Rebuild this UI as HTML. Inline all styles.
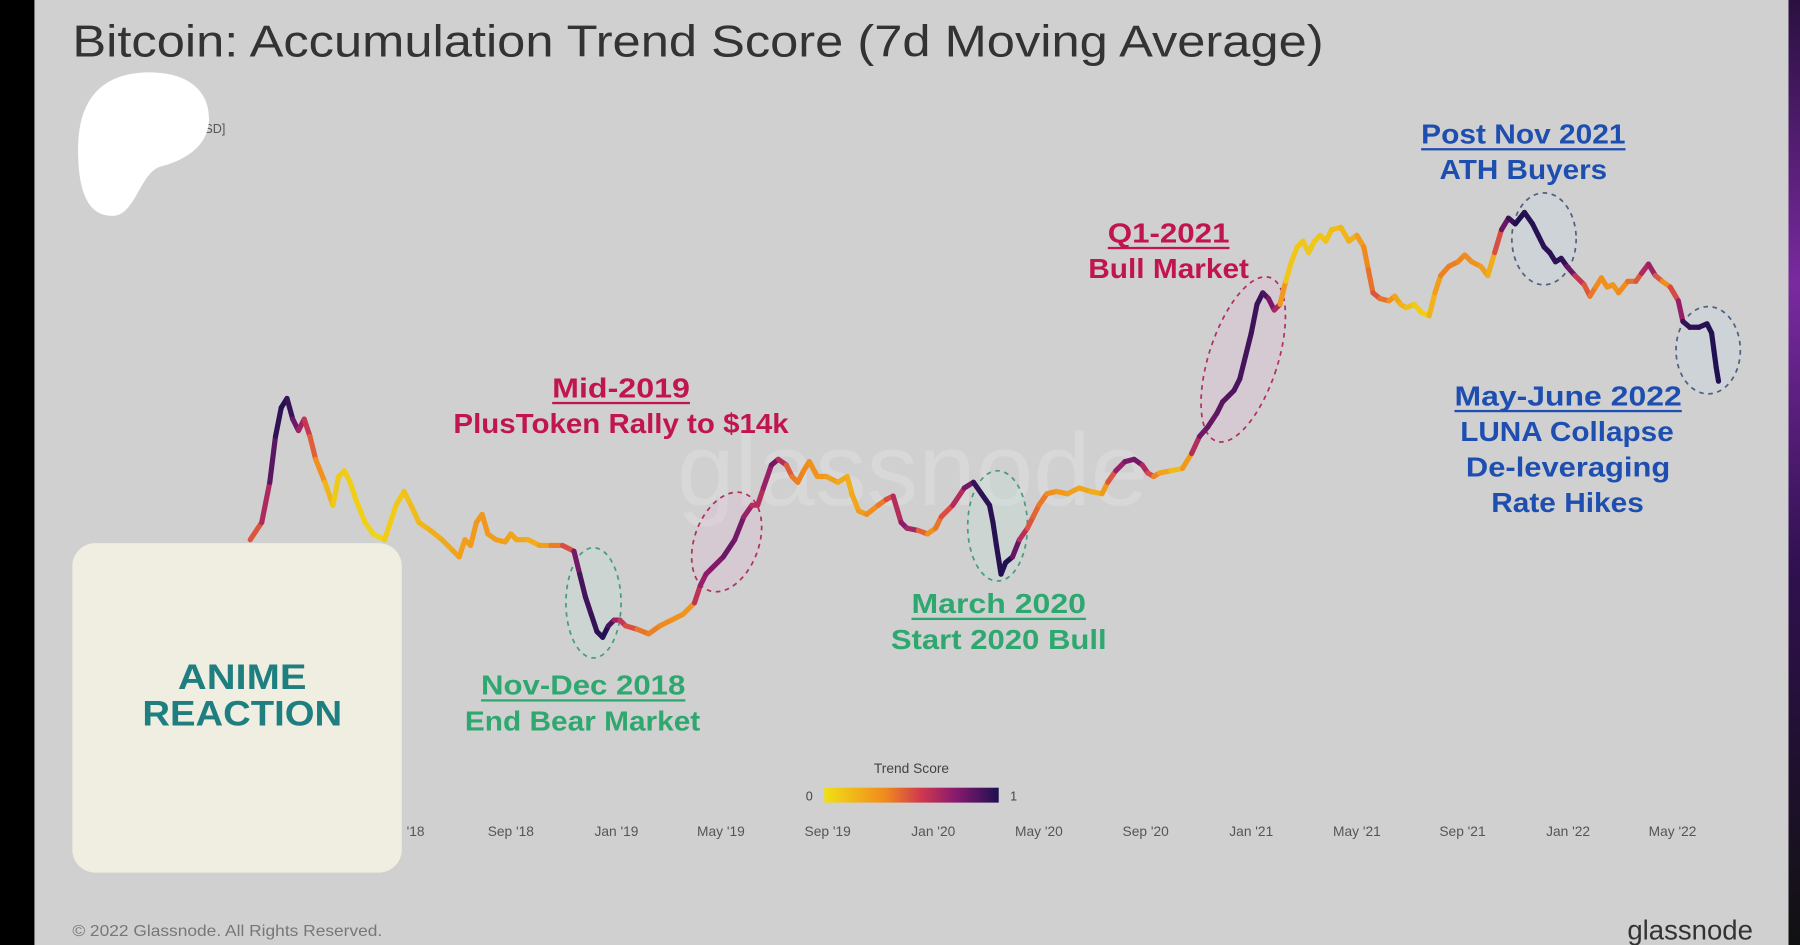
<!DOCTYPE html>
<html><head><meta charset="utf-8"><style>
html,body{margin:0;padding:0;background:#000;}
svg{display:block;}
text{font-family:"Liberation Sans",sans-serif;}
</style></head><body>
<svg id="s" width="1800" height="945" viewBox="0 0 1568 823" preserveAspectRatio="none" xmlns="http://www.w3.org/2000/svg">
<defs>
<linearGradient id="cm" x1="0" x2="1" y1="0" y2="0">
<stop offset="0" stop-color="#f0e015"/><stop offset="0.35" stop-color="#f08a1e"/><stop offset="0.55" stop-color="#d03a4e"/><stop offset="0.75" stop-color="#8a1a6e"/><stop offset="1" stop-color="#1e1050"/>
</linearGradient>
<linearGradient id="rs" x1="0" x2="0" y1="0" y2="1"><stop offset="0" stop-color="#2a1040"/><stop offset="0.3" stop-color="#7a2aa0"/><stop offset="0.6" stop-color="#301050"/><stop offset="1" stop-color="#111"/></linearGradient>
</defs>
<rect x="0" y="0" width="1568" height="823" fill="#000"/>
<rect x="30" y="0" width="1528" height="823" fill="#d0d0d0"/>
<rect x="1558" y="0" width="10" height="823" fill="url(#rs)"/>
<text x="63" y="49" font-size="39" fill="#333" textLength="1090" lengthAdjust="spacingAndGlyphs">Bitcoin: Accumulation Trend Score (7d Moving Average)</text>
<text x="795" y="440" font-size="90" fill="#d8d8d8" text-anchor="middle">glassnode</text>
<text x="178" y="116" font-size="11" fill="#555">SD]</text>
<path d="M98,188 C78,188 68,170 68,130 C68,85 90,63 130,63 C165,63 183,80 182,105 C181,128 160,140 140,145 C122,150 118,188 98,188 Z" fill="#fff"/>

<g fill-opacity="0.25" stroke-width="1.5" stroke-dasharray="4,4">
<ellipse cx="517" cy="525" rx="24" ry="48" fill="#bfe3d6" stroke="#4a9a80"/>
<ellipse cx="633" cy="472" rx="28" ry="45" fill="#e8b8d8" stroke="#b03060" transform="rotate(20 633 472)"/>
<ellipse cx="869" cy="458" rx="26" ry="48" fill="#bfe3d6" stroke="#4a9a80"/>
<ellipse cx="1083" cy="313" rx="30" ry="75" fill="#e8b8d8" stroke="#b03060" transform="rotate(18 1083 313)"/>
<ellipse cx="1345" cy="208" rx="28" ry="40" fill="#c8dcea" stroke="#506080"/>
<ellipse cx="1488" cy="305" rx="28" ry="38" fill="#c8dcea" stroke="#506080"/>
</g>
<g id="line" stroke-width="4.5" stroke-linecap="round" fill="none"></g>

<g font-weight="bold" font-size="24" lengthAdjust="spacingAndGlyphs">
<g fill="#c0154f"><text x="481" y="346" textLength="120" lengthAdjust="spacingAndGlyphs">Mid-2019</text><text x="395" y="377" textLength="292" lengthAdjust="spacingAndGlyphs">PlusToken Rally to $14k</text>
<text x="965" y="211" textLength="106" lengthAdjust="spacingAndGlyphs">Q1-2021</text><text x="948" y="242" textLength="140" lengthAdjust="spacingAndGlyphs">Bull Market</text></g>
<rect x="481" y="350" width="120" height="2" fill="#c0154f"/>
<rect x="965" y="215" width="106" height="2" fill="#c0154f"/>
<g fill="#2fa870"><text x="419" y="605" textLength="178" lengthAdjust="spacingAndGlyphs">Nov-Dec 2018</text><text x="405" y="636" textLength="205" lengthAdjust="spacingAndGlyphs">End Bear Market</text>
<text x="794" y="534" textLength="152" lengthAdjust="spacingAndGlyphs">March 2020</text><text x="776" y="565" textLength="188" lengthAdjust="spacingAndGlyphs">Start 2020 Bull</text></g>
<rect x="419" y="609" width="178" height="2" fill="#2fa870"/>
<rect x="794" y="538" width="152" height="2" fill="#2fa870"/>
<g fill="#1e4fb0"><text x="1238" y="125" textLength="178" lengthAdjust="spacingAndGlyphs">Post Nov 2021</text><text x="1254" y="156" textLength="146" lengthAdjust="spacingAndGlyphs">ATH Buyers</text>
<text x="1267" y="353" textLength="198" lengthAdjust="spacingAndGlyphs">May-June 2022</text><text x="1272" y="384" textLength="186" lengthAdjust="spacingAndGlyphs">LUNA Collapse</text><text x="1277" y="415" textLength="178" lengthAdjust="spacingAndGlyphs">De-leveraging</text><text x="1299" y="446" textLength="133" lengthAdjust="spacingAndGlyphs">Rate Hikes</text></g>
<rect x="1238" y="129" width="178" height="2" fill="#1e4fb0"/>
<rect x="1267" y="357" width="198" height="2" fill="#1e4fb0"/>
</g>

<text x="794" y="673" font-size="12" fill="#444" text-anchor="middle">Trend Score</text>
<rect x="718" y="686" width="152" height="13" fill="url(#cm)"/>
<text x="705" y="697" font-size="11" fill="#444" text-anchor="middle">0</text>
<text x="883" y="697" font-size="11" fill="#444" text-anchor="middle">1</text>
<g font-size="12" fill="#555" text-anchor="middle">
<text x="362" y="728">'18</text><text x="445" y="728">Sep '18</text><text x="537" y="728">Jan '19</text><text x="628" y="728">May '19</text><text x="721" y="728">Sep '19</text><text x="813" y="728">Jan '20</text><text x="905" y="728">May '20</text><text x="998" y="728">Sep '20</text><text x="1090" y="728">Jan '21</text><text x="1182" y="728">May '21</text><text x="1274" y="728">Sep '21</text><text x="1366" y="728">Jan '22</text><text x="1457" y="728">May '22</text>
</g>
<text x="63" y="815" font-size="14" fill="#777" textLength="270" lengthAdjust="spacingAndGlyphs">© 2022 Glassnode. All Rights Reserved.</text>
<text x="1527" y="818" font-size="24" fill="#333" text-anchor="end">glassnode</text>

<rect x="63" y="473" width="287" height="287" rx="20" fill="#efeee0"/>
<g font-weight="bold" font-size="31" fill="#1f7f80"><text x="155" y="600" textLength="112" lengthAdjust="spacingAndGlyphs">ANIME</text><text x="124" y="632" textLength="174" lengthAdjust="spacingAndGlyphs">REACTION</text></g>
</svg>
<script>
var P=[218,470,228,455,235,420,240,380,245,355,250,347,255,365,260,375,265,365,270,380,275,400,283,420,290,440,295,415,300,410,305,420,310,435,318,455,325,465,335,470,345,440,352,428,358,440,365,455,375,462,385,470,395,480,400,485,405,470,410,475,415,455,420,448,425,465,432,470,440,472,445,465,450,470,460,470,470,475,480,475,490,475,500,480,505,500,510,520,515,535,520,550,525,555,530,545,535,540,540,540,545,545,555,548,565,552,575,545,585,540,595,535,605,525,610,510,615,500,620,495,630,485,640,470,648,450,655,440,660,440,665,425,672,405,678,400,685,405,690,415,695,420,700,410,705,402,712,415,720,415,730,420,738,415,742,430,748,445,755,448,765,440,772,435,778,432,785,455,790,460,800,462,808,465,815,460,820,450,830,440,840,425,848,420,855,430,862,440,865,455,868,475,872,500,876,490,882,485,888,470,895,460,900,450,905,440,912,430,920,428,930,430,940,425,950,428,960,430,965,420,972,410,980,402,988,400,995,405,1000,412,1005,415,1010,412,1020,410,1030,408,1038,395,1045,380,1052,372,1060,360,1065,350,1070,345,1075,340,1080,330,1085,310,1090,290,1095,265,1100,255,1105,260,1110,270,1115,265,1120,245,1125,228,1130,215,1135,210,1140,220,1145,210,1150,205,1155,210,1160,200,1168,198,1175,210,1182,205,1188,215,1192,235,1196,255,1202,260,1210,262,1215,258,1220,265,1225,268,1232,265,1238,272,1245,275,1250,255,1255,240,1262,232,1270,228,1276,222,1282,228,1290,232,1296,240,1302,220,1308,200,1314,190,1320,195,1328,185,1335,195,1340,205,1345,215,1350,220,1355,228,1360,225,1365,232,1372,240,1380,248,1385,258,1390,250,1395,242,1400,250,1405,248,1410,255,1418,245,1425,245,1430,238,1436,230,1442,240,1448,245,1455,250,1462,262,1466,280,1472,285,1480,285,1487,282,1491,290,1493,305,1495,320,1497,332];
var K=[218,.4,230,.6,240,.95,250,1,262,.7,275,.4,290,.1,330,.05,380,.2,420,.3,470,.2,495,.5,505,.9,530,1,540,.6,560,.4,600,.3,610,.7,640,.85,660,.6,675,.8,690,.4,740,.2,770,.4,790,.8,810,.3,840,.7,850,.95,880,1,895,.5,920,.3,960,.2,975,.7,990,.85,1010,.3,1030,.1,1045,.8,1060,.85,1100,.95,1112,.7,1120,.1,1150,.1,1180,.2,1200,.5,1220,.2,1240,.05,1260,.4,1290,.3,1300,.2,1310,.8,1320,1,1365,.95,1375,.6,1390,.35,1410,.3,1430,.5,1436,.8,1450,.3,1462,.6,1468,.95,1497,1];
var C=[[0,[240,224,21]],[.35,[240,138,30]],[.55,[208,58,78]],[.75,[138,26,110]],[1,[30,16,80]]];
function sc(x){for(var i=0;i<K.length-2;i+=2){if(x<=K[i+2]){var t=(x-K[i])/(K[i+2]-K[i]);return K[i+1]+t*(K[i+3]-K[i+1]);}}return 1;}
function col(v){v=Math.max(0,Math.min(1,v));for(var i=0;i<C.length-1;i++){if(v<=C[i+1][0]){var t=(v-C[i][0])/(C[i+1][0]-C[i][0]);var a=C[i][1],b=C[i+1][1];return 'rgb('+a.map(function(q,j){return Math.round(q+t*(b[j]-q));}).join(',')+')';}}return 'rgb(30,16,80)';}
var g=document.getElementById('line'),h='';
for(var i=0;i<P.length-2;i+=2){var mx=(P[i]+P[i+2])/2;h+='<line x1="'+P[i]+'" y1="'+P[i+1]+'" x2="'+P[i+2]+'" y2="'+P[i+3]+'" stroke="'+col(sc(mx))+'"/>';}
g.innerHTML=h;
</script>
</body></html>
